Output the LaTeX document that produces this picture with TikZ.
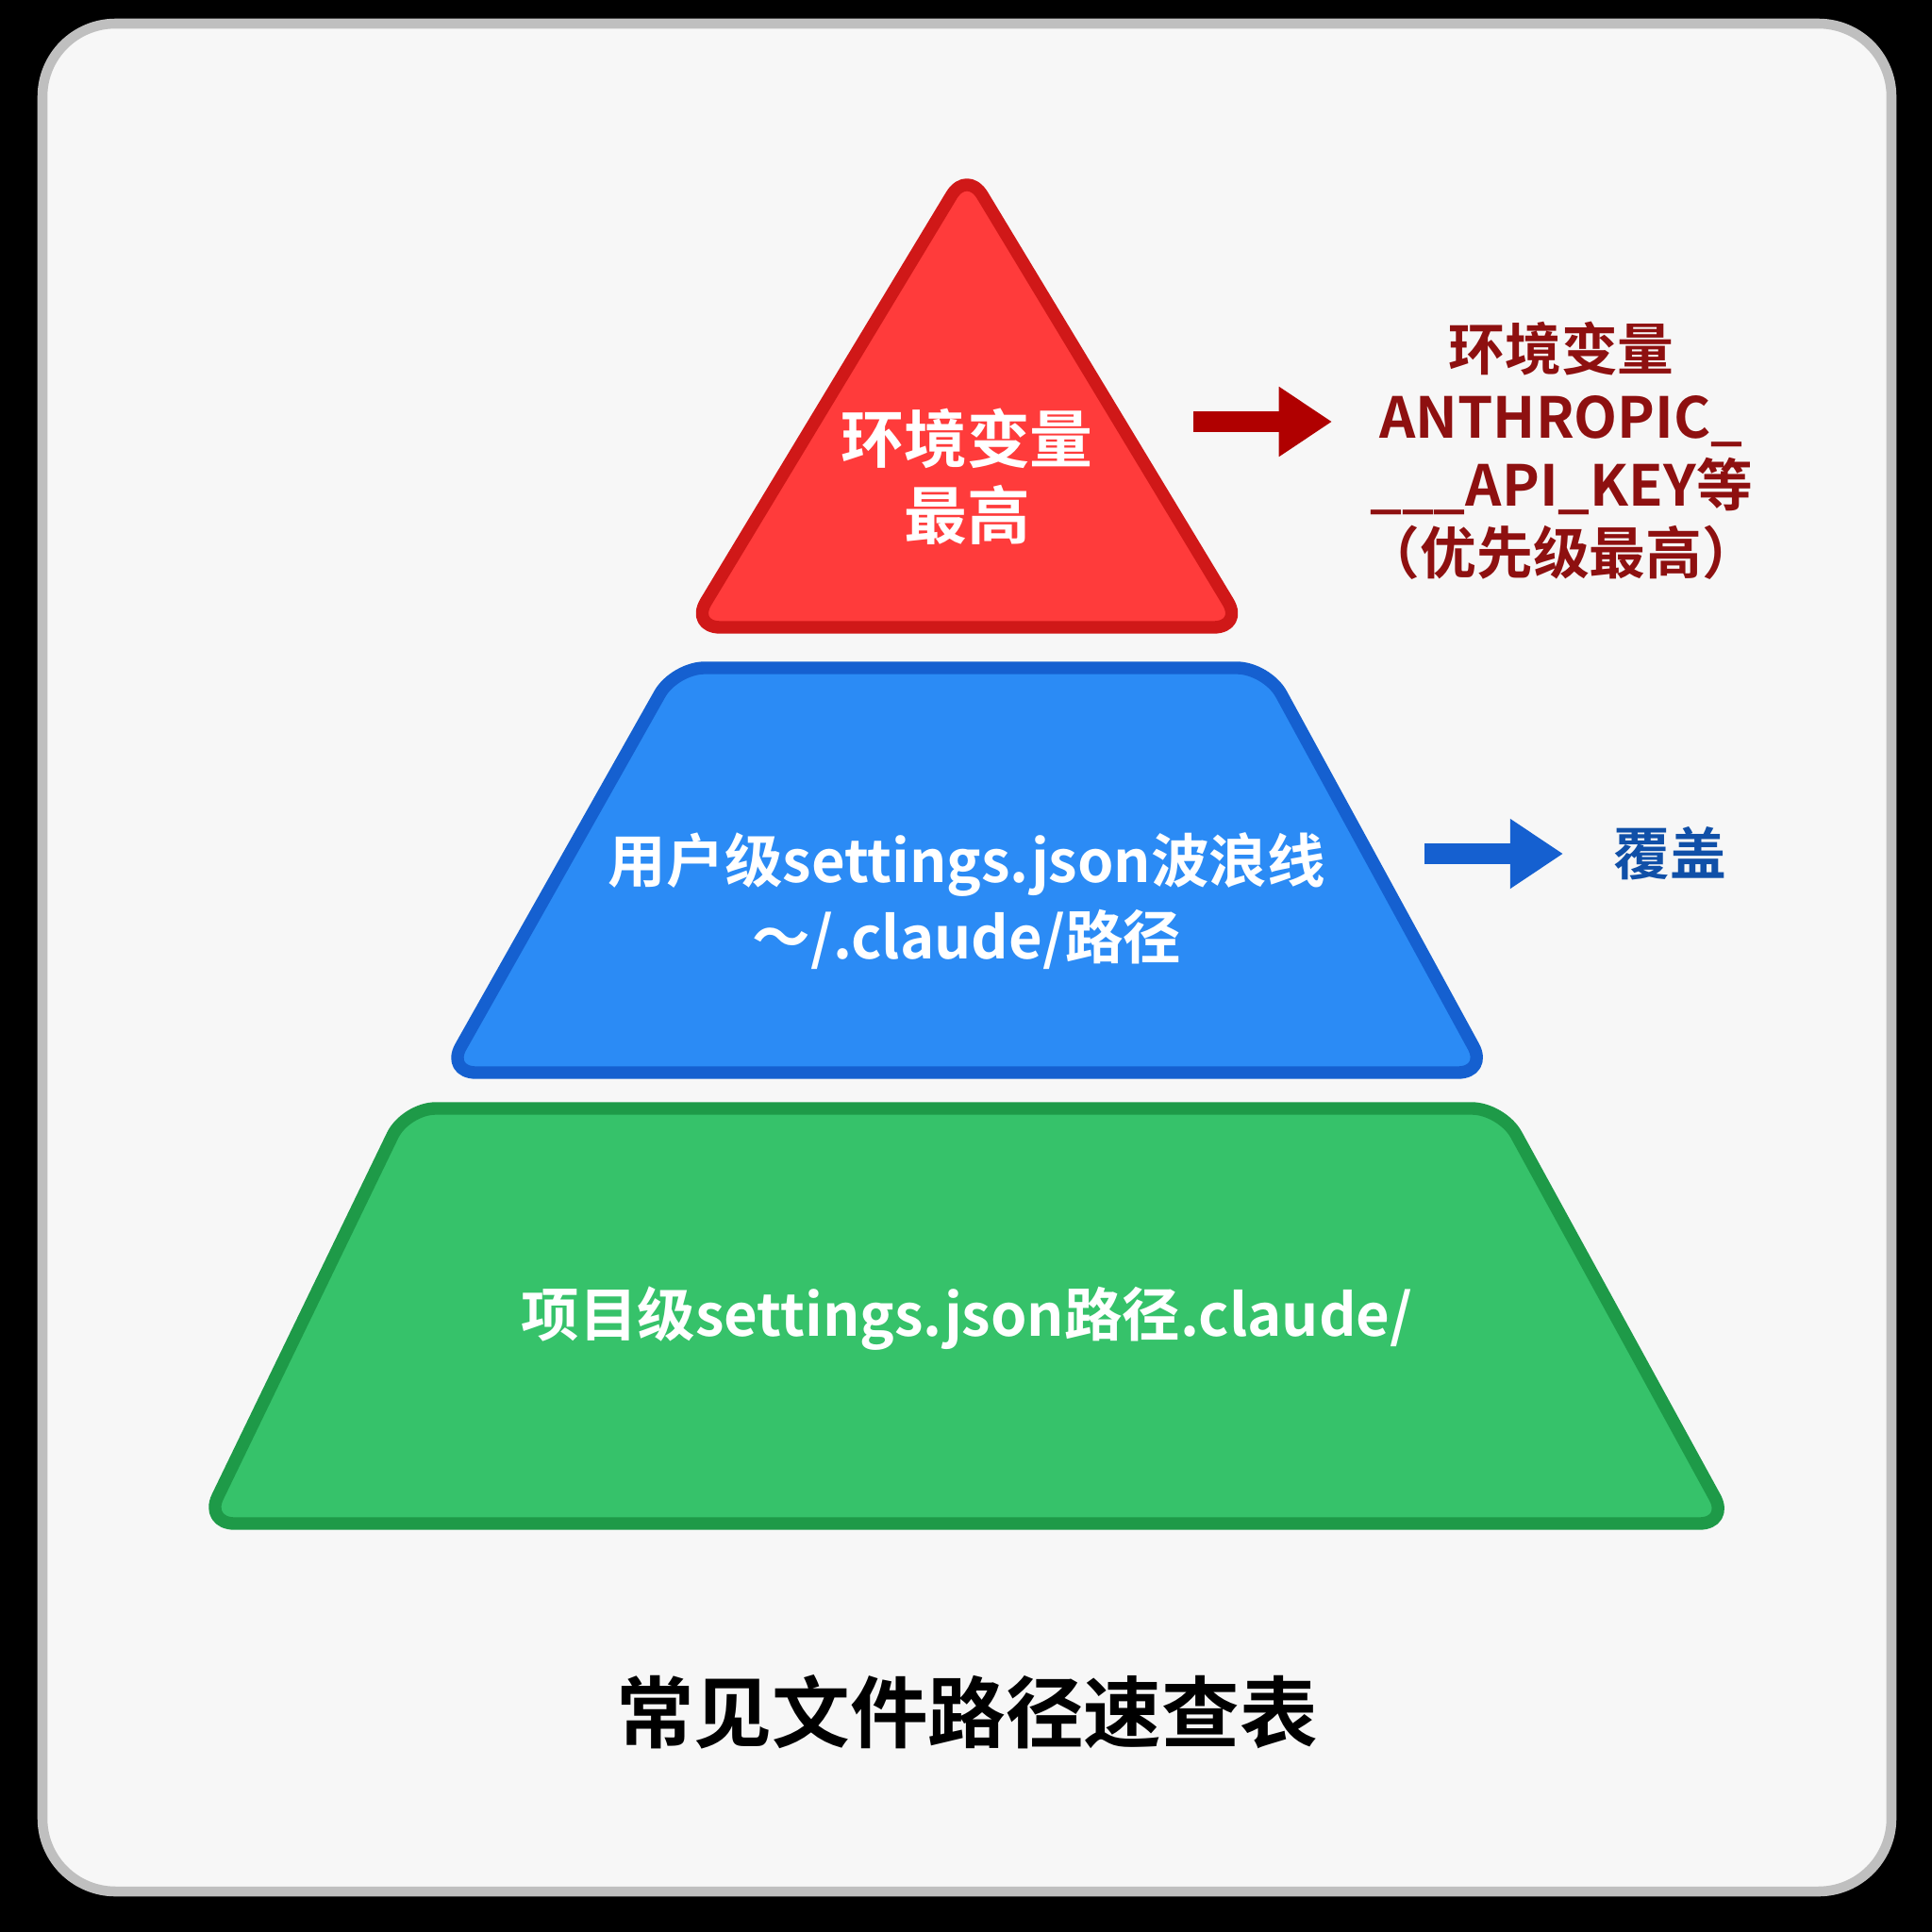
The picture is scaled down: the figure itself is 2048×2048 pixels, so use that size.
\documentclass[tikz,border=0pt]{standalone}
\usepackage{fontspec}
\setmainfont{Noto Sans CJK SC}[BoldFont={* Bold}]
\usetikzlibrary{arrows.meta}
\definecolor{rfill}{HTML}{FF3B3B}\definecolor{rdraw}{HTML}{D01818}
\definecolor{bfill}{HTML}{2B8BF5}\definecolor{bdraw}{HTML}{1560D0}
\definecolor{gfill}{HTML}{36C26A}\definecolor{gdraw}{HTML}{1E9A48}
\definecolor{darkred}{HTML}{8E1010}\definecolor{arred}{HTML}{B00000}
\definecolor{dblue}{HTML}{1050A8}
\tikzset{layer/.style={line width=3.8pt,rounded corners=9pt,line join=round},
 intext/.style={text=white,font=\bfseries\fontsize{17.5pt}{23pt}\selectfont,align=center},
 arr/.style={line width=6pt,-{Triangle[length=16pt,width=20pt]}}}
\begin{document}
\begin{tikzpicture}[x=0.01cm,y=-0.01cm]
\fill[black] (0,0) rectangle (2048,2048);
\draw[fill=white!97!black,draw=black!25,line width=3pt,rounded corners=22pt] (45,25) rectangle (2005,2005);
\draw[layer,fill=rfill,draw=rdraw] (1025,180) -- (1318,665) -- (732,665) -- cycle;
\draw[layer,fill=bfill,draw=bdraw] (715,708) -- (1343,708) -- (1577,1137) -- (473,1137) -- cycle;
\draw[layer,fill=gfill,draw=gdraw] (430,1175) -- (1592,1175) -- (1833,1615) -- (217,1615) -- cycle;
\node[intext,font=\bfseries\fontsize{19pt}{23pt}\selectfont] (r) at (1025,505) {环境变量\\最高};
\node[intext] (b) at (1025,955) {用户级settings.json波浪线\\～/.claude/路径};
\node[intext] (g) at (1025,1398) {项目级settings.json路径.claude/};
\node[text=darkred,font=\bfseries\fontsize{17pt}{20.5pt}\selectfont,align=center] (rl) at (1655,478) {环境变量\\ANTHROPIC\_\\\_\_\_API\_KEY等\\（优先级最高）};
\node[text=dblue,font=\bfseries\fontsize{17pt}{20pt}\selectfont] (bl) at (1770,905) {覆盖};
\coordinate (ra) at (1265,447); \coordinate (rb) at (1412,447);
\coordinate (ba) at (1510,905); \coordinate (bb) at (1657,905);
\draw[arr,arred] (ra) -- (rb);
\draw[arr,bdraw] (ba) -- (bb);
\node[font=\bfseries\fontsize{23.5pt}{26pt}\selectfont] (t) at (1025,1815) {常见文件路径速查表};
\end{tikzpicture}
\end{document}
